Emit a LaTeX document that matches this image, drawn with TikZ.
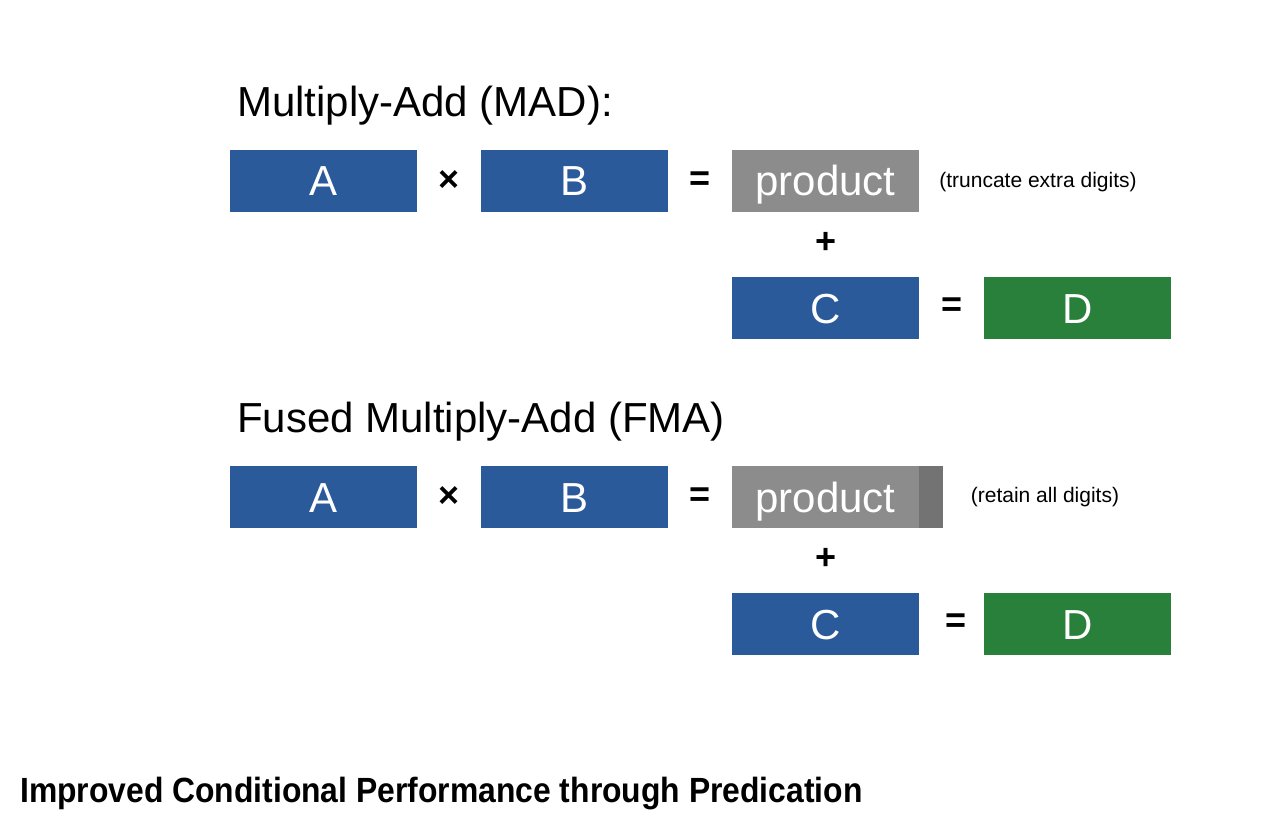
\documentclass[tikz,border=0pt]{standalone}
\usepackage{fontspec}
\usepackage{graphicx}
\setmainfont{Liberation Sans}
\usetikzlibrary{positioning}
\definecolor{boxblue}{RGB}{43,90,155}
\definecolor{boxgreen}{RGB}{41,128,58}
\definecolor{prodgray}{RGB}{140,140,140}
\definecolor{extgray}{RGB}{115,115,115}

\begin{document}
\begin{tikzpicture}[x=1pt,y=1pt,yscale=-1,
  box/.style={minimum width=187pt,minimum height=62pt,inner sep=0pt,text=white,
    text height=30pt,text depth=0pt,font=\fontsize{42}{42}\selectfont},
  op/.style={inner sep=0pt,font=\bfseries\fontsize{36}{36}\selectfont},
  title/.style={anchor=base west,inner sep=0pt,font=\fontsize{42}{42}\selectfont},
  note/.style={inner sep=0pt,font=\fontsize{21}{21}\selectfont}]
\useasboundingbox (0,0) rectangle (1280,821);

%Multiply-Add
\node [title] (madtitle) at (237,117) {Multiply-Add (MAD):};
\node [box,fill=boxblue] (mada) at (323.5,181) {A};
\node [op] (madtimes) at (449,181) {×};
\node [box,fill=boxblue] (madb) at (574.5,181) {B};
\node [op] (madeq) at (700,181) {=};
\node [box,fill=prodgray] (madprod) at (825.5,181) {product};
\node [note] (madnote) at (1038,182) {(truncate extra digits)};
\node [op] (madplus) at (826,243) {+};
\node [box,fill=boxblue] (madc) at (825.5,308) {C};
\node [op] (madeq2) at (952,307) {=};
\node [box,fill=boxgreen] (madd) at (1077.5,308) {D};

%Fused Multiply-Add
\node [title] (fmatitle) at (237,432) {Fused Multiply-Add (FMA)};
\node [box,fill=boxblue] (fmaa) at (323.5,497) {A};
\node [op] (fmatimes) at (449,497) {×};
\node [box,fill=boxblue] (fmab) at (574.5,497) {B};
\node [op] (fmaeq) at (700,497) {=};
\node [box,fill=prodgray] (fmaprod) at (825.5,497) {product};
\node [anchor=west,fill=extgray,inner sep=0pt,minimum width=24pt,minimum height=62pt] (fmaext) at (fmaprod.east) {};
\node [note] (fmanote) at (1045,497) {(retain all digits)};
\node [op] (fmaplus) at (826,559) {+};
\node [box,fill=boxblue] (fmac) at (825.5,624) {C};
\node [op] (fmaeq2) at (956,623) {=};
\node [box,fill=boxgreen] (fmad) at (1077.5,624) {D};

%Caption
\node [anchor=base west,inner sep=0pt] (caption) at (20,802)
  {\scalebox{0.91}[1]{\bfseries\fontsize{35}{35}\selectfont Improved Conditional Performance through Predication}};

\end{tikzpicture}
\end{document}
